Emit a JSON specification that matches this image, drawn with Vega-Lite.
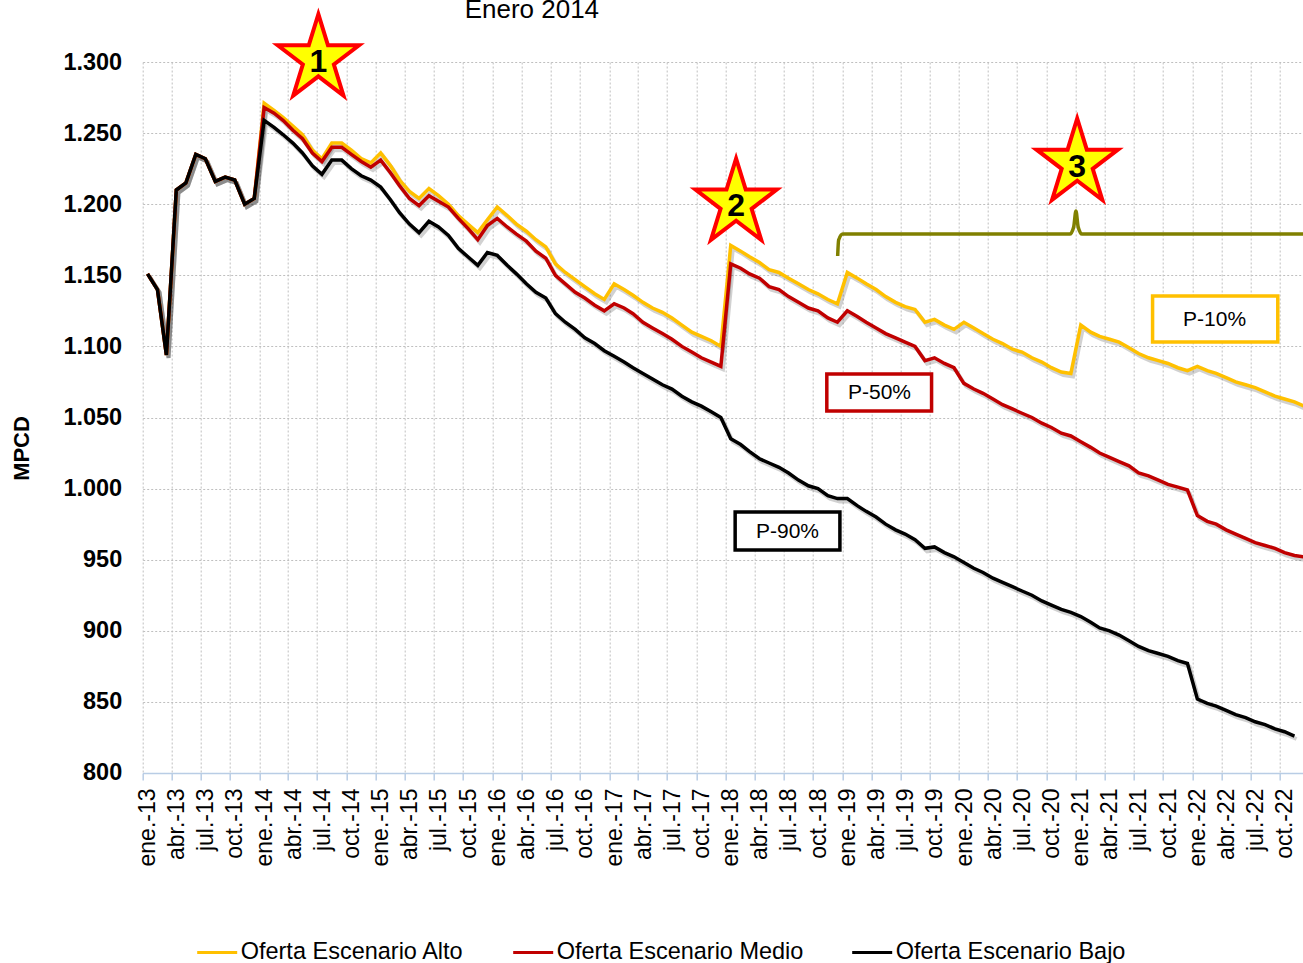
{
  "$schema": "https://vega.github.io/schema/vega-lite/v6.json",
  "autosize": {"type": "none"},
  "padding": {"left": 142.7, "top": 62, "right": 0, "bottom": 190},
  "width": 1160,
  "height": 711,
  "background": "white",
  "config": {
    "font": "Liberation Sans",
    "view": {"stroke": null},
    "axis": {"labelColor": "black", "titleColor": "black", "labelFont": "Liberation Sans", "titleFont": "Liberation Sans"}
  },
  "title": {"text": "Enero 2014", "anchor": "start", "frame": "group", "dx": 322, "offset": -38, "fontSize": 26, "fontWeight": "normal", "font": "Liberation Sans", "baseline": "alphabetic", "color": "black"},
  "datasets": {
    "series": [
      {"mes": "2013-01", "Oferta Escenario Alto": 1151, "Oferta Escenario Medio": 1151, "Oferta Escenario Bajo": 1151},
      {"mes": "2013-02", "Oferta Escenario Alto": 1140, "Oferta Escenario Medio": 1140, "Oferta Escenario Bajo": 1140},
      {"mes": "2013-03", "Oferta Escenario Alto": 1094, "Oferta Escenario Medio": 1094, "Oferta Escenario Bajo": 1094},
      {"mes": "2013-04", "Oferta Escenario Alto": 1210, "Oferta Escenario Medio": 1210, "Oferta Escenario Bajo": 1210},
      {"mes": "2013-05", "Oferta Escenario Alto": 1215, "Oferta Escenario Medio": 1215, "Oferta Escenario Bajo": 1215},
      {"mes": "2013-06", "Oferta Escenario Alto": 1235, "Oferta Escenario Medio": 1235, "Oferta Escenario Bajo": 1235},
      {"mes": "2013-07", "Oferta Escenario Alto": 1232, "Oferta Escenario Medio": 1232, "Oferta Escenario Bajo": 1232},
      {"mes": "2013-08", "Oferta Escenario Alto": 1216, "Oferta Escenario Medio": 1216, "Oferta Escenario Bajo": 1216},
      {"mes": "2013-09", "Oferta Escenario Alto": 1219, "Oferta Escenario Medio": 1219, "Oferta Escenario Bajo": 1219},
      {"mes": "2013-10", "Oferta Escenario Alto": 1217, "Oferta Escenario Medio": 1217, "Oferta Escenario Bajo": 1217},
      {"mes": "2013-11", "Oferta Escenario Alto": 1200, "Oferta Escenario Medio": 1200, "Oferta Escenario Bajo": 1200},
      {"mes": "2013-12", "Oferta Escenario Alto": 1204, "Oferta Escenario Medio": 1204, "Oferta Escenario Bajo": 1204},
      {"mes": "2014-01", "Oferta Escenario Alto": 1271, "Oferta Escenario Medio": 1268, "Oferta Escenario Bajo": 1259},
      {"mes": "2014-02", "Oferta Escenario Alto": 1266, "Oferta Escenario Medio": 1264, "Oferta Escenario Bajo": 1254},
      {"mes": "2014-03", "Oferta Escenario Alto": 1261, "Oferta Escenario Medio": 1259, "Oferta Escenario Bajo": 1249},
      {"mes": "2014-04", "Oferta Escenario Alto": 1255, "Oferta Escenario Medio": 1252, "Oferta Escenario Bajo": 1243},
      {"mes": "2014-05", "Oferta Escenario Alto": 1249, "Oferta Escenario Medio": 1246, "Oferta Escenario Bajo": 1236},
      {"mes": "2014-06", "Oferta Escenario Alto": 1238, "Oferta Escenario Medio": 1236, "Oferta Escenario Bajo": 1227},
      {"mes": "2014-07", "Oferta Escenario Alto": 1232, "Oferta Escenario Medio": 1230, "Oferta Escenario Bajo": 1221},
      {"mes": "2014-08", "Oferta Escenario Alto": 1243, "Oferta Escenario Medio": 1240, "Oferta Escenario Bajo": 1231},
      {"mes": "2014-09", "Oferta Escenario Alto": 1243, "Oferta Escenario Medio": 1240, "Oferta Escenario Bajo": 1231},
      {"mes": "2014-10", "Oferta Escenario Alto": 1238, "Oferta Escenario Medio": 1235, "Oferta Escenario Bajo": 1225},
      {"mes": "2014-11", "Oferta Escenario Alto": 1232, "Oferta Escenario Medio": 1230, "Oferta Escenario Bajo": 1220},
      {"mes": "2014-12", "Oferta Escenario Alto": 1229, "Oferta Escenario Medio": 1226, "Oferta Escenario Bajo": 1217},
      {"mes": "2015-01", "Oferta Escenario Alto": 1236, "Oferta Escenario Medio": 1231, "Oferta Escenario Bajo": 1212},
      {"mes": "2015-02", "Oferta Escenario Alto": 1227, "Oferta Escenario Medio": 1222, "Oferta Escenario Bajo": 1203},
      {"mes": "2015-03", "Oferta Escenario Alto": 1217, "Oferta Escenario Medio": 1213, "Oferta Escenario Bajo": 1194},
      {"mes": "2015-04", "Oferta Escenario Alto": 1209, "Oferta Escenario Medio": 1204, "Oferta Escenario Bajo": 1186},
      {"mes": "2015-05", "Oferta Escenario Alto": 1204, "Oferta Escenario Medio": 1199, "Oferta Escenario Bajo": 1180},
      {"mes": "2015-06", "Oferta Escenario Alto": 1211, "Oferta Escenario Medio": 1206, "Oferta Escenario Bajo": 1188},
      {"mes": "2015-07", "Oferta Escenario Alto": 1206, "Oferta Escenario Medio": 1202, "Oferta Escenario Bajo": 1184},
      {"mes": "2015-08", "Oferta Escenario Alto": 1200, "Oferta Escenario Medio": 1198, "Oferta Escenario Bajo": 1178},
      {"mes": "2015-09", "Oferta Escenario Alto": 1192, "Oferta Escenario Medio": 1190, "Oferta Escenario Bajo": 1169},
      {"mes": "2015-10", "Oferta Escenario Alto": 1186, "Oferta Escenario Medio": 1183, "Oferta Escenario Bajo": 1163},
      {"mes": "2015-11", "Oferta Escenario Alto": 1180, "Oferta Escenario Medio": 1175, "Oferta Escenario Bajo": 1157},
      {"mes": "2015-12", "Oferta Escenario Alto": 1189, "Oferta Escenario Medio": 1185, "Oferta Escenario Bajo": 1166},
      {"mes": "2016-01", "Oferta Escenario Alto": 1198, "Oferta Escenario Medio": 1190, "Oferta Escenario Bajo": 1164},
      {"mes": "2016-02", "Oferta Escenario Alto": 1192, "Oferta Escenario Medio": 1184, "Oferta Escenario Bajo": 1157},
      {"mes": "2016-03", "Oferta Escenario Alto": 1186, "Oferta Escenario Medio": 1179, "Oferta Escenario Bajo": 1151},
      {"mes": "2016-04", "Oferta Escenario Alto": 1181, "Oferta Escenario Medio": 1174, "Oferta Escenario Bajo": 1144},
      {"mes": "2016-05", "Oferta Escenario Alto": 1175, "Oferta Escenario Medio": 1167, "Oferta Escenario Bajo": 1138},
      {"mes": "2016-06", "Oferta Escenario Alto": 1170, "Oferta Escenario Medio": 1162, "Oferta Escenario Bajo": 1134},
      {"mes": "2016-07", "Oferta Escenario Alto": 1158, "Oferta Escenario Medio": 1150, "Oferta Escenario Bajo": 1123},
      {"mes": "2016-08", "Oferta Escenario Alto": 1152, "Oferta Escenario Medio": 1144, "Oferta Escenario Bajo": 1117},
      {"mes": "2016-09", "Oferta Escenario Alto": 1147, "Oferta Escenario Medio": 1138, "Oferta Escenario Bajo": 1112},
      {"mes": "2016-10", "Oferta Escenario Alto": 1142, "Oferta Escenario Medio": 1134, "Oferta Escenario Bajo": 1106},
      {"mes": "2016-11", "Oferta Escenario Alto": 1137, "Oferta Escenario Medio": 1129, "Oferta Escenario Bajo": 1102},
      {"mes": "2016-12", "Oferta Escenario Alto": 1133, "Oferta Escenario Medio": 1125, "Oferta Escenario Bajo": 1097},
      {"mes": "2017-01", "Oferta Escenario Alto": 1144, "Oferta Escenario Medio": 1130, "Oferta Escenario Bajo": 1093},
      {"mes": "2017-02", "Oferta Escenario Alto": 1140, "Oferta Escenario Medio": 1127, "Oferta Escenario Bajo": 1089},
      {"mes": "2017-03", "Oferta Escenario Alto": 1136, "Oferta Escenario Medio": 1123, "Oferta Escenario Bajo": 1085},
      {"mes": "2017-04", "Oferta Escenario Alto": 1131, "Oferta Escenario Medio": 1117, "Oferta Escenario Bajo": 1081},
      {"mes": "2017-05", "Oferta Escenario Alto": 1127, "Oferta Escenario Medio": 1113, "Oferta Escenario Bajo": 1077},
      {"mes": "2017-06", "Oferta Escenario Alto": 1124, "Oferta Escenario Medio": 1109, "Oferta Escenario Bajo": 1073},
      {"mes": "2017-07", "Oferta Escenario Alto": 1120, "Oferta Escenario Medio": 1105, "Oferta Escenario Bajo": 1070},
      {"mes": "2017-08", "Oferta Escenario Alto": 1115, "Oferta Escenario Medio": 1100, "Oferta Escenario Bajo": 1065},
      {"mes": "2017-09", "Oferta Escenario Alto": 1110, "Oferta Escenario Medio": 1096, "Oferta Escenario Bajo": 1061},
      {"mes": "2017-10", "Oferta Escenario Alto": 1107, "Oferta Escenario Medio": 1092, "Oferta Escenario Bajo": 1058},
      {"mes": "2017-11", "Oferta Escenario Alto": 1104, "Oferta Escenario Medio": 1089, "Oferta Escenario Bajo": 1054},
      {"mes": "2017-12", "Oferta Escenario Alto": 1100, "Oferta Escenario Medio": 1086, "Oferta Escenario Bajo": 1050},
      {"mes": "2018-01", "Oferta Escenario Alto": 1171, "Oferta Escenario Medio": 1158, "Oferta Escenario Bajo": 1035},
      {"mes": "2018-02", "Oferta Escenario Alto": 1167, "Oferta Escenario Medio": 1155, "Oferta Escenario Bajo": 1031},
      {"mes": "2018-03", "Oferta Escenario Alto": 1163, "Oferta Escenario Medio": 1151, "Oferta Escenario Bajo": 1026},
      {"mes": "2018-04", "Oferta Escenario Alto": 1159, "Oferta Escenario Medio": 1148, "Oferta Escenario Bajo": 1021},
      {"mes": "2018-05", "Oferta Escenario Alto": 1154, "Oferta Escenario Medio": 1142, "Oferta Escenario Bajo": 1018},
      {"mes": "2018-06", "Oferta Escenario Alto": 1152, "Oferta Escenario Medio": 1140, "Oferta Escenario Bajo": 1015},
      {"mes": "2018-07", "Oferta Escenario Alto": 1148, "Oferta Escenario Medio": 1135, "Oferta Escenario Bajo": 1011},
      {"mes": "2018-08", "Oferta Escenario Alto": 1144, "Oferta Escenario Medio": 1131, "Oferta Escenario Bajo": 1006},
      {"mes": "2018-09", "Oferta Escenario Alto": 1140, "Oferta Escenario Medio": 1127, "Oferta Escenario Bajo": 1002},
      {"mes": "2018-10", "Oferta Escenario Alto": 1137, "Oferta Escenario Medio": 1125, "Oferta Escenario Bajo": 1000},
      {"mes": "2018-11", "Oferta Escenario Alto": 1133, "Oferta Escenario Medio": 1120, "Oferta Escenario Bajo": 995},
      {"mes": "2018-12", "Oferta Escenario Alto": 1130, "Oferta Escenario Medio": 1117, "Oferta Escenario Bajo": 993},
      {"mes": "2019-01", "Oferta Escenario Alto": 1152, "Oferta Escenario Medio": 1125, "Oferta Escenario Bajo": 993},
      {"mes": "2019-02", "Oferta Escenario Alto": 1148, "Oferta Escenario Medio": 1121, "Oferta Escenario Bajo": 988},
      {"mes": "2019-03", "Oferta Escenario Alto": 1144, "Oferta Escenario Medio": 1117, "Oferta Escenario Bajo": 984},
      {"mes": "2019-04", "Oferta Escenario Alto": 1140, "Oferta Escenario Medio": 1113, "Oferta Escenario Bajo": 980},
      {"mes": "2019-05", "Oferta Escenario Alto": 1135, "Oferta Escenario Medio": 1109, "Oferta Escenario Bajo": 975},
      {"mes": "2019-06", "Oferta Escenario Alto": 1131, "Oferta Escenario Medio": 1106, "Oferta Escenario Bajo": 971},
      {"mes": "2019-07", "Oferta Escenario Alto": 1128, "Oferta Escenario Medio": 1103, "Oferta Escenario Bajo": 968},
      {"mes": "2019-08", "Oferta Escenario Alto": 1126, "Oferta Escenario Medio": 1100, "Oferta Escenario Bajo": 964},
      {"mes": "2019-09", "Oferta Escenario Alto": 1117, "Oferta Escenario Medio": 1090, "Oferta Escenario Bajo": 958},
      {"mes": "2019-10", "Oferta Escenario Alto": 1119, "Oferta Escenario Medio": 1092, "Oferta Escenario Bajo": 959},
      {"mes": "2019-11", "Oferta Escenario Alto": 1115, "Oferta Escenario Medio": 1088, "Oferta Escenario Bajo": 955},
      {"mes": "2019-12", "Oferta Escenario Alto": 1112, "Oferta Escenario Medio": 1085, "Oferta Escenario Bajo": 952},
      {"mes": "2020-01", "Oferta Escenario Alto": 1117, "Oferta Escenario Medio": 1074, "Oferta Escenario Bajo": 948},
      {"mes": "2020-02", "Oferta Escenario Alto": 1113, "Oferta Escenario Medio": 1070, "Oferta Escenario Bajo": 944},
      {"mes": "2020-03", "Oferta Escenario Alto": 1109, "Oferta Escenario Medio": 1067, "Oferta Escenario Bajo": 941},
      {"mes": "2020-04", "Oferta Escenario Alto": 1105, "Oferta Escenario Medio": 1063, "Oferta Escenario Bajo": 937},
      {"mes": "2020-05", "Oferta Escenario Alto": 1102, "Oferta Escenario Medio": 1059, "Oferta Escenario Bajo": 934},
      {"mes": "2020-06", "Oferta Escenario Alto": 1098, "Oferta Escenario Medio": 1056, "Oferta Escenario Bajo": 931},
      {"mes": "2020-07", "Oferta Escenario Alto": 1096, "Oferta Escenario Medio": 1053, "Oferta Escenario Bajo": 928},
      {"mes": "2020-08", "Oferta Escenario Alto": 1092, "Oferta Escenario Medio": 1050, "Oferta Escenario Bajo": 925},
      {"mes": "2020-09", "Oferta Escenario Alto": 1089, "Oferta Escenario Medio": 1046, "Oferta Escenario Bajo": 921},
      {"mes": "2020-10", "Oferta Escenario Alto": 1085, "Oferta Escenario Medio": 1043, "Oferta Escenario Bajo": 918},
      {"mes": "2020-11", "Oferta Escenario Alto": 1082, "Oferta Escenario Medio": 1039, "Oferta Escenario Bajo": 915},
      {"mes": "2020-12", "Oferta Escenario Alto": 1081, "Oferta Escenario Medio": 1037, "Oferta Escenario Bajo": 913},
      {"mes": "2021-01", "Oferta Escenario Alto": 1115, "Oferta Escenario Medio": 1033, "Oferta Escenario Bajo": 910},
      {"mes": "2021-02", "Oferta Escenario Alto": 1110, "Oferta Escenario Medio": 1029, "Oferta Escenario Bajo": 906},
      {"mes": "2021-03", "Oferta Escenario Alto": 1107, "Oferta Escenario Medio": 1025, "Oferta Escenario Bajo": 902},
      {"mes": "2021-04", "Oferta Escenario Alto": 1105, "Oferta Escenario Medio": 1022, "Oferta Escenario Bajo": 900},
      {"mes": "2021-05", "Oferta Escenario Alto": 1103, "Oferta Escenario Medio": 1019, "Oferta Escenario Bajo": 897},
      {"mes": "2021-06", "Oferta Escenario Alto": 1099, "Oferta Escenario Medio": 1016, "Oferta Escenario Bajo": 893},
      {"mes": "2021-07", "Oferta Escenario Alto": 1095, "Oferta Escenario Medio": 1011, "Oferta Escenario Bajo": 889},
      {"mes": "2021-08", "Oferta Escenario Alto": 1092, "Oferta Escenario Medio": 1009, "Oferta Escenario Bajo": 886},
      {"mes": "2021-09", "Oferta Escenario Alto": 1090, "Oferta Escenario Medio": 1006, "Oferta Escenario Bajo": 884},
      {"mes": "2021-10", "Oferta Escenario Alto": 1088, "Oferta Escenario Medio": 1003, "Oferta Escenario Bajo": 882},
      {"mes": "2021-11", "Oferta Escenario Alto": 1085, "Oferta Escenario Medio": 1001, "Oferta Escenario Bajo": 879},
      {"mes": "2021-12", "Oferta Escenario Alto": 1083, "Oferta Escenario Medio": 999, "Oferta Escenario Bajo": 877},
      {"mes": "2022-01", "Oferta Escenario Alto": 1086, "Oferta Escenario Medio": 981, "Oferta Escenario Bajo": 852},
      {"mes": "2022-02", "Oferta Escenario Alto": 1083, "Oferta Escenario Medio": 977, "Oferta Escenario Bajo": 849},
      {"mes": "2022-03", "Oferta Escenario Alto": 1081, "Oferta Escenario Medio": 975, "Oferta Escenario Bajo": 847},
      {"mes": "2022-04", "Oferta Escenario Alto": 1078, "Oferta Escenario Medio": 971, "Oferta Escenario Bajo": 844},
      {"mes": "2022-05", "Oferta Escenario Alto": 1075, "Oferta Escenario Medio": 968, "Oferta Escenario Bajo": 841},
      {"mes": "2022-06", "Oferta Escenario Alto": 1073, "Oferta Escenario Medio": 965, "Oferta Escenario Bajo": 839},
      {"mes": "2022-07", "Oferta Escenario Alto": 1071, "Oferta Escenario Medio": 962, "Oferta Escenario Bajo": 836},
      {"mes": "2022-08", "Oferta Escenario Alto": 1068, "Oferta Escenario Medio": 960, "Oferta Escenario Bajo": 834},
      {"mes": "2022-09", "Oferta Escenario Alto": 1065, "Oferta Escenario Medio": 958, "Oferta Escenario Bajo": 831},
      {"mes": "2022-10", "Oferta Escenario Alto": 1063, "Oferta Escenario Medio": 955, "Oferta Escenario Bajo": 829},
      {"mes": "2022-11", "Oferta Escenario Alto": 1061, "Oferta Escenario Medio": 953, "Oferta Escenario Bajo": 826},
      {"mes": "2022-12", "Oferta Escenario Alto": 1058, "Oferta Escenario Medio": 952, "Oferta Escenario Bajo": null}
    ],
    "estrellas": [
      {"mes": "2014-07-05", "mpcd": 1302, "numero": "1"},
      {"mes": "2018-02-02", "mpcd": 1200.5, "numero": "2"},
      {"mes": "2021-01-05", "mpcd": 1228.6, "numero": "3"}
    ],
    "cajas": [
      {"etiqueta": "P-10%", "inicio": "2021-08-29", "fin": "2022-09-25", "centro": "2022-03-11", "sup": 1135.4, "inf": 1103.1, "medio": 1118.6},
      {"etiqueta": "P-50%", "inicio": "2018-11-13", "fin": "2019-10-07", "centro": "2019-04-27", "sup": 1080.6, "inf": 1054.6, "medio": 1067.2},
      {"etiqueta": "P-90%", "inicio": "2018-01-30", "fin": "2018-12-24", "centro": "2018-07-13", "sup": 983.5, "inf": 956.8, "medio": 969.5}
    ],
    "llave": [
      {"mes": "2018-12-17", "mpcd": 1163.6},
      {"mes": "2018-12-20", "mpcd": 1174.8},
      {"mes": "2019-01-02", "mpcd": 1179},
      {"mes": "2020-12-13", "mpcd": 1179},
      {"mes": "2020-12-25", "mpcd": 1184},
      {"mes": "2021-01-01", "mpcd": 1195.2},
      {"mes": "2021-01-08", "mpcd": 1184},
      {"mes": "2021-01-20", "mpcd": 1179},
      {"mes": "2023-02-04", "mpcd": 1179}
    ]
  },
  "layer": [
    {
      "data": {"name": "series"},
      "transform": [{"fold": ["Oferta Escenario Alto", "Oferta Escenario Medio", "Oferta Escenario Bajo"], "as": ["serie", "mpcd"]}],
      "mark": {"type": "line", "color": "#000000", "opacity": 0.18, "strokeWidth": 4, "xOffset": 7, "yOffset": 3},
      "encoding": {
        "x": {"field": "mes", "type": "temporal"},
        "y": {"field": "mpcd", "type": "quantitative"},
        "detail": {"field": "serie"}
      }
    },
    {
      "data": {"name": "series"},
      "transform": [{"fold": ["Oferta Escenario Alto", "Oferta Escenario Medio", "Oferta Escenario Bajo"], "as": ["serie", "mpcd"]}],
      "mark": {"type": "line", "strokeWidth": 3.5, "xOffset": 4.86},
      "encoding": {
        "x": {
          "field": "mes", "type": "temporal",
          "scale": {"type": "utc", "domain": [{"year": 2013, "month": 1, "date": 1, "utc": true}, {"year": 2022, "month": 12, "date": 12, "utc": true}], "nice": false},
          "axis": {
            "title": null,
            "tickCount": {"interval": "month", "step": 3},
            "labelExpr": "['ene.','feb.','mar.','abr.','may.','jun.','jul.','ago.','sep.','oct.','nov.','dic.'][utcmonth(datum.value)] + '-' + utcFormat(datum.value, '%y')",
            "labelAngle": -90,
            "labelFontSize": 23,
            "labelPadding": 8,
            "labelOffset": 5,
            "labelOverlap": false,
            "labelFlush": false,
            "labelBound": false,
            "grid": true,
            "gridDash": [2, 2],
            "gridColor": "#bfbfbf",
            "gridWidth": 1,
            "domainColor": "#b9cde5",
            "domainWidth": 1.5,
            "tickColor": "#b9cde5",
            "tickSize": 7,
            "tickWidth": 1.5
          }
        },
        "y": {
          "field": "mpcd", "type": "quantitative",
          "scale": {"domain": [800, 1300], "nice": false, "zero": false},
          "axis": {
            "title": "MPCD",
            "values": [800, 850, 900, 950, 1000, 1050, 1100, 1150, 1200, 1250, 1300],
            "labelExpr": "replace(format(datum.value, ','), ',', '.')",
            "labelFontSize": 23.5,
            "labelFontWeight": "bold",
            "labelPadding": 21,
            "ticks": false,
            "domain": false,
            "grid": true,
            "gridDash": [2, 2],
            "gridColor": "#bfbfbf",
            "gridWidth": 1,
            "titleFontSize": 22,
            "titleFontWeight": "bold",
            "titleAngle": -90,
            "titleX": -120.7,
            "titleY": 386,
            "titleAlign": "center",
            "titleBaseline": "middle"
          }
        },
        "color": {
          "field": "serie", "type": "nominal",
          "scale": {"domain": ["Oferta Escenario Alto", "Oferta Escenario Medio", "Oferta Escenario Bajo"], "range": ["#FFC000", "#C00000", "#000000"]},
          "legend": {
            "orient": "none", "direction": "horizontal", "legendX": 53, "legendY": 869,
            "title": null, "symbolType": "stroke", "symbolSize": 1600, "symbolStrokeWidth": 3,
            "labelFontSize": 23.5, "labelFont": "Liberation Sans", "labelColor": "black", "labelOffset": 2,
            "columnPadding": 42, "labelLimit": 500, "padding": 0
          }
        }
      }
    },
    {
      "data": {"name": "llave"},
      "mark": {"type": "line", "color": "#808000", "strokeWidth": 3.5, "interpolate": "monotone"},
      "encoding": {
        "x": {"field": "mes", "type": "temporal"},
        "y": {"field": "mpcd", "type": "quantitative"}
      }
    },
    {
      "data": {"name": "cajas"},
      "mark": {"type": "rect", "fill": "white", "strokeWidth": 3.5},
      "encoding": {
        "x": {"field": "inicio", "type": "temporal"},
        "x2": {"field": "fin"},
        "y": {"field": "sup", "type": "quantitative"},
        "y2": {"field": "inf"},
        "stroke": {"field": "etiqueta", "type": "nominal", "scale": {"domain": ["P-10%", "P-50%", "P-90%"], "range": ["#FFC000", "#C00000", "#000000"]}, "legend": null}
      }
    },
    {
      "data": {"name": "cajas"},
      "mark": {"type": "text", "fontSize": 21, "font": "Liberation Sans", "color": "black", "align": "center", "baseline": "middle"},
      "encoding": {
        "x": {"field": "centro", "type": "temporal"},
        "y": {"field": "medio", "type": "quantitative"},
        "text": {"field": "etiqueta"}
      }
    },
    {
      "data": {"name": "estrellas"},
      "mark": {"type": "point", "shape": "M0,-1L0.2133,-0.309L0.9035,-0.309L0.3451,0.118L0.5584,0.809L0,0.382L-0.5584,0.809L-0.3451,0.118L-0.9035,-0.309L-0.2133,-0.309Z", "size": 8100, "filled": true, "fill": "#FFFF00", "stroke": "#FF0000", "strokeWidth": 4, "opacity": 1},
      "encoding": {
        "x": {"field": "mes", "type": "temporal"},
        "y": {"field": "mpcd", "type": "quantitative"}
      }
    },
    {
      "data": {"name": "estrellas"},
      "mark": {"type": "text", "fontSize": 32, "fontWeight": "bold", "font": "Liberation Sans", "color": "black", "align": "center", "baseline": "middle", "dy": 3},
      "encoding": {
        "x": {"field": "mes", "type": "temporal"},
        "y": {"field": "mpcd", "type": "quantitative"},
        "text": {"field": "numero"}
      }
    }
  ]
}
